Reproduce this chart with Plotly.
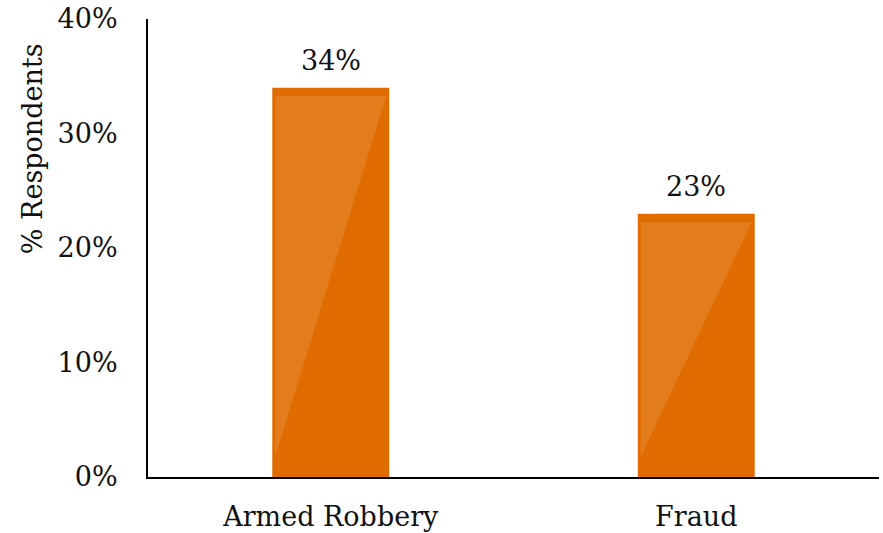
import plotly.graph_objects as go

categories = ["Armed Robbery", "Fraud"]
values = [34, 23]
y_ticks = [0, 10, 20, 30, 40]
y_tick_labels = ["0%", "10%", "20%", "30%", "40%"]

BAR_COLOR = "#E06C00"
FONT = "DejaVu Serif"
FS = 27
bar_width = 0.32

fig = go.Figure()
fig.add_trace(go.Bar(
    x=list(range(len(categories))), y=values, width=bar_width,
    marker=dict(color=BAR_COLOR, line=dict(width=0)),
    hoverinfo="skip",
))

# lighter glossy overlay derived from each bar's value
for i, v in enumerate(values):
    half = bar_width / 2
    inset = 0.008
    top = v - 0.75
    xs = [i - half + inset, i + half - inset, i - half + inset, i - half + inset]
    ys = [top, top, 1.8, top]
    fig.add_trace(go.Scatter(
        x=xs, y=ys, mode="lines", fill="toself",
        fillcolor="rgba(255,255,255,0.11)", line=dict(width=0),
        hoverinfo="skip", showlegend=False,
    ))

annotations = [dict(
    x=i, y=v, text=f"{v}%", showarrow=False, xref="x", yref="y",
    yanchor="bottom", yshift=10,
    font=dict(family=FONT, size=FS, color="#111111"),
) for i, v in enumerate(values)]

annotations.append(dict(
    text="% Respondents", textangle=-90, xref="paper", yref="paper",
    x=-0.1587, y=0.718, xanchor="center", yanchor="middle",
    showarrow=False, font=dict(family=FONT, size=FS, color="#111111"),
))

fig.update_layout(
    width=883, height=533,
    margin=dict(l=148, r=4, t=19, b=56, autoexpand=False),
    plot_bgcolor="white", paper_bgcolor="white",
    showlegend=False,
    font=dict(family=FONT, size=FS, color="#111111"),
    xaxis=dict(
        range=[-0.5, 1.5], tickmode="array",
        tickvals=list(range(len(categories))), ticktext=categories,
        showgrid=False, zeroline=False, showline=True,
        linecolor="black", linewidth=2, ticks="",
        ticklabelstandoff=15, automargin=False,
        tickfont=dict(family=FONT, size=FS, color="#111111"),
    ),
    yaxis=dict(
        range=[0, 40], tickmode="array", tickvals=y_ticks,
        ticktext=y_tick_labels, showgrid=False, zeroline=False,
        showline=True, linecolor="black", linewidth=2, ticks="",
        ticklabelstandoff=23, automargin=False,
        tickfont=dict(family=FONT, size=FS, color="#111111"),
    ),
    annotations=annotations,
)

fig.write_html(
    "out.html",
    config={"displayModeBar": False},
    post_script="document.body.style.margin='0px';",
)
